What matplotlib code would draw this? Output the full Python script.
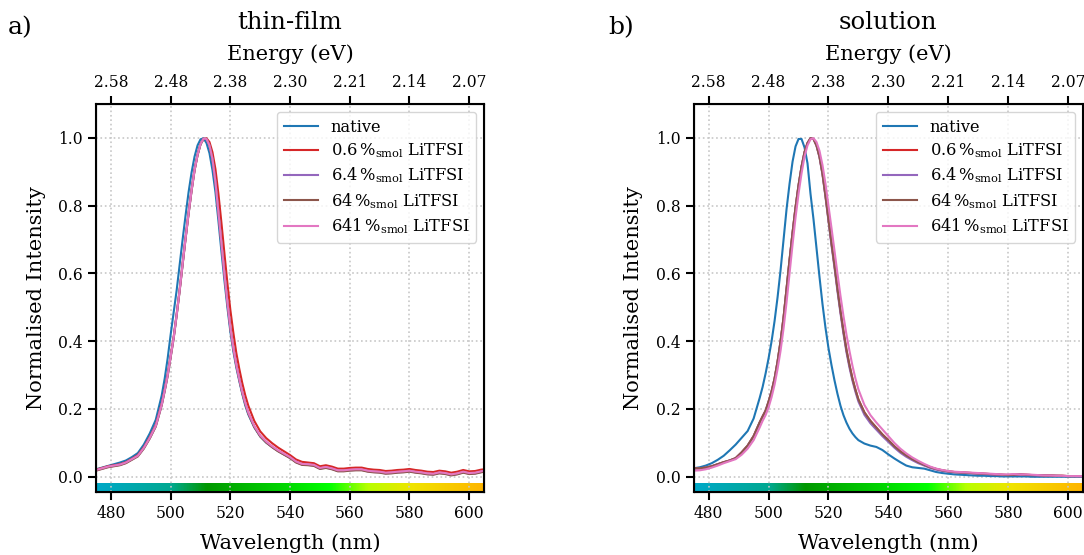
import numpy as np
import matplotlib.pyplot as plt
from matplotlib.colors import LinearSegmentedColormap

plt.rcParams['font.family'] = 'DejaVu Serif'
plt.rcParams['mathtext.fontset'] = 'dejavuserif'

# --- data ---
labels = ["native",
          r"0.6$\,$%$_\mathrm{smol}$ LiTFSI",
          r"6.4$\,$%$_\mathrm{smol}$ LiTFSI",
          r"64$\,$%$_\mathrm{smol}$ LiTFSI",
          r"641$\,$%$_\mathrm{smol}$ LiTFSI"]
colors = ["C0", "C3", "C4", "C5", "C6"]

# thin-film spectra
film_wl = [475, 477, 479, 481, 483, 485, 487, 489, 491, 493, 495, 497,
           498, 499, 500, 501, 502, 503, 504, 505, 506, 507, 508, 509, 510, 511, 512, 513, 514,
           515, 516, 517, 518, 519, 520, 521, 522, 523, 524, 525, 526,
           528, 530, 532, 534, 536, 538, 540, 542, 544, 546, 548, 550, 552, 554, 556, 558, 560,
           562, 564, 566, 568, 570, 572, 574, 576, 578, 580, 582, 584, 586, 588, 590, 592, 594,
           596, 598, 600, 602, 604, 605]
film_native = [.022, .027, .032, .037, .042, .048, .058, .070, .095, .128, .168, .240,
               .290, .350, .420, .485, .550, .625, .700, .772, .840, .898, .945, .978, .996, .999, .985, .955, .905,
               .840, .755, .665, .580, .500, .428, .370, .322, .282, .244, .210, .184,
               .146, .119, .101, .088, .076, .066, .056, .044, .037, .036, .034, .025, .028, .024, .018, .018, .020,
               .021, .021, .017, .015, .014, .011, .012, .014, .015, .017, .014, .012, .009, .008, .012, .010, .006,
               .009, .014, .010, .011, .015, .017]
film_06 = [.021, .026, .031, .034, .037, .043, .053, .064, .087, .117, .153, .216,
           .258, .303, .358, .413, .480, .552, .630, .707, .780, .847, .906, .950, .982, .996, .999, .988, .958,
           .908, .835, .750, .660, .572, .492, .425, .365, .318, .276, .240, .210,
           .165, .134, .114, .099, .086, .075, .064, .051, .044, .042, .040, .031, .034, .030, .024, .024, .026,
           .027, .027, .023, .021, .020, .017, .018, .020, .021, .023, .020, .018, .015, .014, .018, .016, .012,
           .015, .020, .016, .017, .021, .022]
film_64 = [.019, .024, .029, .032, .035, .041, .051, .061, .084, .114, .149, .212,
           .254, .299, .354, .409, .477, .549, .627, .704, .777, .845, .905, .950, .982, .998, .997, .978, .938,
           .870, .780, .690, .599, .514, .439, .379, .329, .287, .248, .216, .188,
           .148, .120, .102, .088, .076, .066, .056, .043, .036, .035, .033, .024, .027, .023, .017, .017, .019,
           .020, .020, .016, .014, .013, .010, .011, .013, .014, .016, .013, .011, .008, .007, .011, .009, .005,
           .008, .013, .009, .010, .014, .016]
film_640 = [.018, .023, .028, .031, .034, .040, .050, .060, .083, .113, .148, .211,
            .253, .298, .353, .408, .476, .548, .626, .703, .776, .844, .904, .949, .981, .998, .997, .978, .937,
            .869, .779, .689, .598, .513, .438, .378, .328, .286, .247, .215, .187,
            .147, .119, .101, .087, .075, .065, .055, .042, .035, .034, .032, .023, .026, .022, .016, .016, .018,
            .019, .019, .015, .013, .012, .009, .010, .012, .013, .015, .012, .010, .007, .006, .010, .008, .004,
            .007, .012, .008, .009, .013, .015]
film_641 = [.020, .025, .030, .033, .036, .042, .052, .062, .085, .115, .150, .213,
            .255, .300, .355, .410, .478, .550, .628, .705, .778, .845, .905, .950, .982, .998, .997, .978, .938,
            .870, .780, .690, .600, .515, .440, .380, .330, .288, .250, .218, .190,
            .150, .122, .104, .090, .078, .068, .058, .045, .038, .037, .035, .026, .029, .025, .019, .019, .021,
            .022, .022, .018, .016, .015, .012, .013, .015, .016, .018, .015, .013, .010, .009, .013, .011, .007,
            .010, .015, .011, .012, .016, .018]

# solution spectra
sol_wl = [475, 477, 479, 481, 483, 485, 487, 489, 491, 493, 495, 497,
          498, 499, 500, 501, 502, 503, 504, 505, 506, 507, 508, 509, 510, 511, 512, 513, 514, 515, 516,
          517, 518, 519, 520, 521, 522, 523, 524, 525, 526, 527, 528, 529, 530,
          532, 534, 536, 538, 540, 542, 544, 546, 548, 550, 552, 554, 556, 558, 560, 562, 564, 566, 568,
          570, 572, 574, 576, 578, 580, 582, 584, 586, 588, 590, 592, 594, 596, 598, 600, 602, 604, 605]
sol_native = [.025, .028, .033, .040, .050, .062, .078, .095, .115, .135, .172, .232,
              .265, .305, .350, .400, .460, .530, .610, .700, .790, .865, .930, .975, .997, .997, .972, .925, .835, .760, .675,
              .590, .510, .440, .380, .330, .285, .245, .210, .182, .160, .142, .128, .117, .108,
              .098, .092, .088, .079, .066, .054, .043, .033, .028, .026, .024, .019, .014, .011, .009, .007, .006, .005, .004,
              .003, .003, .002, .002, .001, .001, .001, .001, .001, .000, .000, .000, .000, .000, .000, .000, .000, .000, .000]
sol_06 = [.025, .025, .027, .031, .037, .043, .048, .055, .072, .092, .120, .160,
          .178, .195, .222, .252, .290, .340, .400, .470, .555, .640, .720, .795, .860, .915, .958, .985, .999, .997, .978,
          .945, .895, .830, .760, .690, .625, .555, .490, .430, .375, .330, .290, .257, .228,
          .190, .165, .145, .125, .108, .090, .075, .063, .052, .043, .035, .028, .023, .019, .016, .014, .013, .012, .011,
          .010, .009, .008, .007, .006, .005, .006, .007, .006, .005, .005, .004, .004, .003, .003, .002, .002, .002, .002]
sol_64 = [.024, .025, .027, .031, .037, .043, .048, .055, .072, .092, .120, .160,
          .178, .195, .222, .252, .290, .340, .400, .470, .555, .640, .720, .795, .860, .915, .958, .985, .999, .997, .977,
          .943, .892, .826, .755, .684, .618, .548, .483, .423, .368, .323, .284, .251, .222,
          .183, .158, .139, .120, .103, .086, .071, .059, .049, .040, .033, .026, .021, .017, .015, .013, .012, .011, .010,
          .009, .008, .007, .006, .005, .005, .006, .006, .005, .005, .004, .004, .003, .003, .002, .002, .002, .001, .001]
sol_640 = [.025, .025, .027, .031, .037, .043, .048, .055, .072, .092, .120, .160,
           .178, .195, .222, .252, .290, .340, .400, .470, .555, .640, .720, .795, .860, .915, .958, .985, .999, .997, .978,
           .945, .895, .830, .760, .690, .625, .555, .490, .430, .375, .330, .290, .257, .228,
           .190, .165, .145, .125, .108, .090, .075, .063, .052, .043, .035, .028, .023, .019, .016, .014, .013, .012, .011,
           .010, .009, .008, .007, .006, .005, .006, .007, .006, .005, .005, .004, .004, .003, .003, .002, .002, .002, .002]
sol_641 = [.018, .019, .022, .027, .033, .040, .046, .052, .065, .083, .108, .145,
           .165, .182, .205, .235, .272, .318, .372, .438, .515, .600, .685, .765, .835, .895, .945, .978, .996, .999, .988,
           .962, .920, .865, .800, .735, .668, .600, .535, .475, .420, .372, .328, .290, .258,
           .212, .182, .160, .140, .120, .100, .083, .069, .057, .047, .038, .030, .024, .020, .017, .015, .014, .013, .012,
           .011, .010, .009, .008, .007, .007, .008, .007, .007, .006, .005, .004, .004, .003, .003, .002, .002, .002, .002]

film_series = [film_native, film_06, film_64, film_640, film_641]
sol_series = [sol_native, sol_06, sol_64, sol_640, sol_641]

wl_ticks = [480, 500, 520, 540, 560, 580, 600]

# colour stops for the visible-spectrum strip under the curves
strip_stops = [(475, "#00a8c8"), (500, "#00a890"), (512, "#009800"), (540, "#00dc00"),
               (553, "#00ff00"), (566, "#b8ff00"), (581, "#f0e400"), (605, "#ffb400")]

XLIM = (475, 605)
YLIM = (-0.045, 1.1)


def make_strip_cmap():
    lo, hi = strip_stops[0][0], strip_stops[-1][0]
    pts = [((w - lo) / (hi - lo), c) for w, c in strip_stops]
    return LinearSegmentedColormap.from_list("spectrum", pts)


def draw_panel(ax, wl, series, title):
    for y, c, lab in zip(series, colors, labels):
        ax.plot(wl, y, color=c, lw=1.5, label=lab)

    strip = np.linspace(0, 1, 512).reshape(1, -1)
    ax.imshow(strip, cmap=make_strip_cmap(), aspect="auto",
              extent=(XLIM[0], XLIM[1], YLIM[0], -0.02), zorder=1)

    ax.set_xlim(*XLIM)
    ax.set_ylim(*YLIM)
    ax.set_xticks(wl_ticks)
    ax.set_yticks([0.0, 0.2, 0.4, 0.6, 0.8, 1.0])
    ax.grid(True, ls=":", color="0.78", lw=1.2)
    ax.set_xlabel("Wavelength (nm)", fontsize=15, labelpad=8)
    ax.set_ylabel("Normalised Intensity", fontsize=15, labelpad=9)
    ax.tick_params(labelsize=11.2, length=6, width=1.5)
    for s in ax.spines.values():
        s.set_linewidth(1.5)

    top = ax.twiny()
    top.set_xlim(*XLIM)
    top.set_xticks(wl_ticks)
    top.set_xticklabels([f"{1239.84 / w:.2f}" for w in wl_ticks])
    top.tick_params(labelsize=11.2, length=6, width=1.5)
    top.set_xlabel("Energy (eV)", fontsize=15, labelpad=10)
    top.set_title(title, fontsize=17.5, pad=11)

    ax.legend(loc="upper right", fontsize=11.7, handlelength=2.1,
              borderaxespad=0.5, labelspacing=0.35, fancybox=True, framealpha=0.8)


fig = plt.figure(figsize=(10.84, 5.55), dpi=100)
ax_a = fig.add_axes([0.0886, 0.1135, 0.358, 0.699])
ax_b = fig.add_axes([0.640, 0.1135, 0.359, 0.699])

draw_panel(ax_a, film_wl, film_series, "thin-film")
draw_panel(ax_b, sol_wl, sol_series, "solution")

fig.text(8 / 1084, 1 - 28 / 555, "a)", fontsize=18, va="center")
fig.text(608 / 1084, 1 - 28 / 555, "b)", fontsize=18, va="center")

fig.savefig("out.png", dpi=100)
